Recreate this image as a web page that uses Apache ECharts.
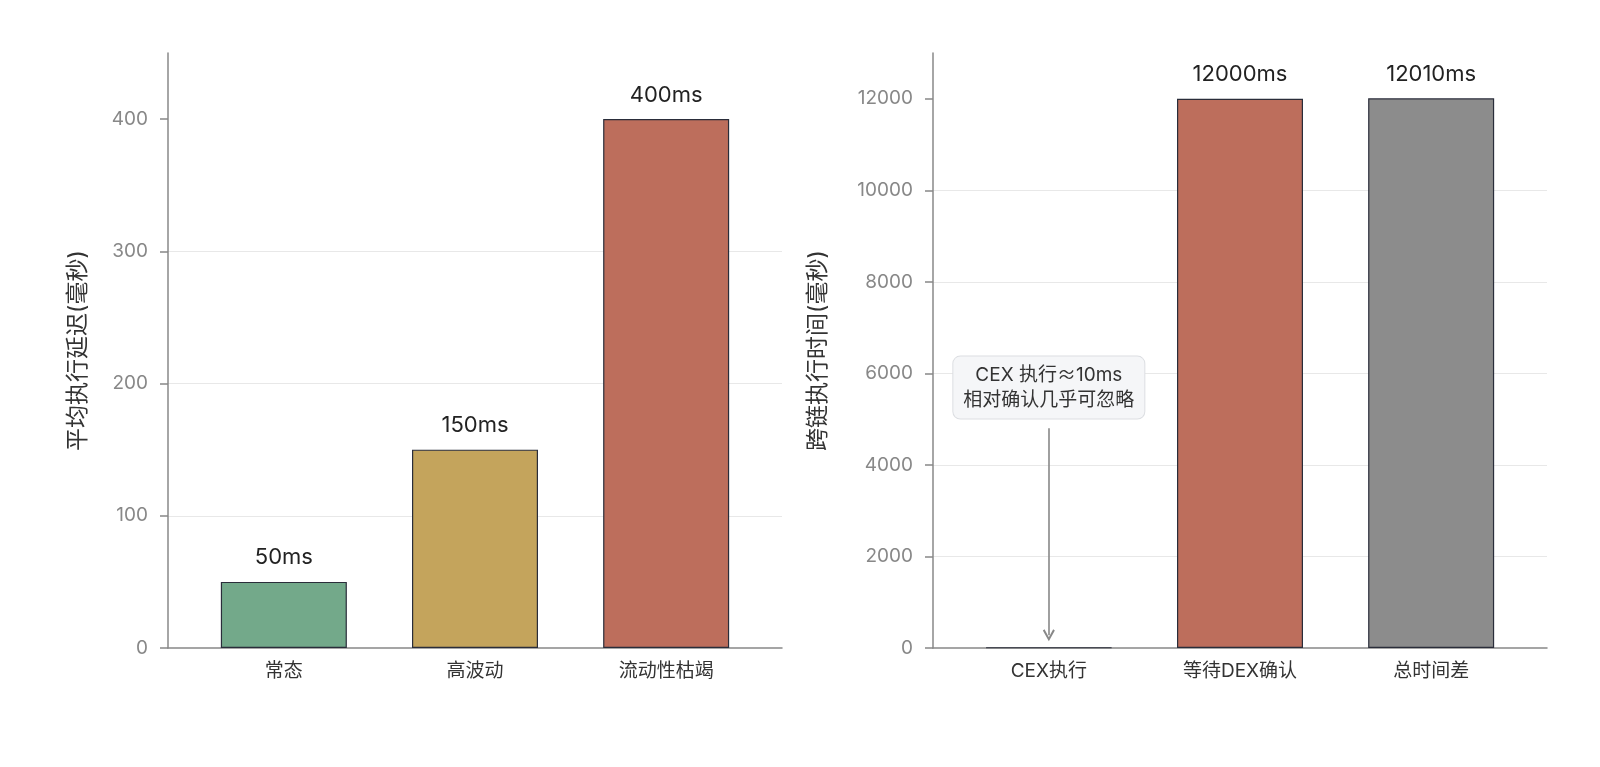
<!DOCTYPE html>
<html>
<head>
<meta charset="utf-8">
<script src="https://cdn.jsdelivr.net/npm/echarts@6/dist/echarts.min.js"></script>
<style>
html, body { margin: 0; padding: 0; background: #fff; }
#main { width: 1600px; height: 767px; }
</style>
</head>
<body>
<div id="main"></div>
<script>
// 左图：不同市场状态下的平均执行延迟
var stateNames = ['常态', '高波动', '流动性枯竭'];
var stateDelay = [50, 150, 400];
var leftTicks = [0, 100, 200, 300, 400];

// 右图：跨链执行时间
var stepNames = ['CEX执行', '等待DEX确认', '总时间差'];
var stepTime = [10, 12000, 12010];
var rightTicks = [0, 2000, 4000, 6000, 8000, 10000, 12000];

// 注释
var noteText = 'CEX 执行{eq|≈}10ms\n相对确认几乎可忽略';
var notePos = [0, 5690];
var arrowFrom = [0, 4800];
var arrowTo = [0, 280];

var leftColors = ['#73a98a', '#c4a45c', '#bd6e5c'];
var rightColors = ['#3a3f5a', '#bd6e5c', '#8c8c8c'];

var FONT = 'Inter, "Noto Sans CJK SC", sans-serif';

function barData(vals, colors) {
    var out = [];
    for (var i = 0; i < vals.length; i++) {
        out.push({
            value: [i, vals[i]],
            itemStyle: { color: colors[i] }
        });
    }
    return out;
}

function makeX(gridIndex, names) {
    return {
        type: 'value',
        gridIndex: gridIndex,
        min: -0.606,
        max: 2.606,
        splitLine: { show: false },
        axisLine: { show: true, onZero: false, lineStyle: { color: '#888', width: 1.5 } },
        axisTick: { show: false, customValues: [0, 1, 2] },
        axisLabel: {
            customValues: [0, 1, 2],
            color: '#333',
            fontSize: 19,
            fontFamily: FONT,
            margin: 14,
            formatter: function (v) { return names[Math.round(v)]; }
        }
    };
}

function makeY(gridIndex, max, ticks, name, gap) {
    return {
        type: 'value',
        gridIndex: gridIndex,
        min: 0,
        max: max,
        name: name,
        nameLocation: 'middle',
        nameGap: gap,
        nameTextStyle: { color: '#333', fontSize: 23, fontFamily: FONT },
        axisLine: { show: true, onZero: false, lineStyle: { color: '#888', width: 1.5 } },
        axisTick: { show: true, length: 8, customValues: ticks, lineStyle: { color: '#888', width: 1.5 } },
        axisLabel: {
            customValues: ticks,
            color: '#888',
            fontSize: 19,
            fontFamily: FONT,
            margin: 20,
            formatter: function (v) { return String(v); }
        },
        splitLine: { show: true, showMinLine: false, showMaxLine: false, lineStyle: { color: '#e8e8e8', width: 1 } }
    };
}

var dom = document.getElementById('main');
var myChart = echarts.init(dom);

var option = {
    backgroundColor: '#fff',
    animation: false,
    grid: [
        { left: 168, right: 818, top: 53, bottom: 119 },
        { left: 933, right: 53, top: 53, bottom: 119 }
    ],
    xAxis: [makeX(0, stateNames), makeX(1, stepNames)],
    yAxis: [
        makeY(0, 450, leftTicks, '平均执行延迟(毫秒)', 78),
        makeY(1, 13000, rightTicks, '跨链执行时间(毫秒)', 103)
    ],
    series: [
        {
            type: 'bar',
            xAxisIndex: 0,
            yAxisIndex: 0,
            barWidth: 126,
            data: barData(stateDelay, leftColors),
            itemStyle: { borderColor: '#2a2d3a', borderWidth: 1.2 },
            label: {
                show: true,
                position: 'top',
                distance: 13,
                color: '#222',
                fontSize: 22,
                fontFamily: FONT,
                formatter: function (p) { return p.value[1] + 'ms'; }
            }
        },
        {
            type: 'bar',
            xAxisIndex: 1,
            yAxisIndex: 1,
            barWidth: 126,
            data: barData(stepTime, rightColors),
            itemStyle: { borderColor: '#2a2d3a', borderWidth: 1.2 },
            label: {
                show: true,
                position: 'top',
                distance: 13,
                color: '#222',
                fontSize: 22,
                fontFamily: FONT,
                formatter: function (p) {
                    // CEX 那根太矮，不标数值
                    return p.dataIndex === 0 ? '' : p.value[1] + 'ms';
                }
            },
            markLine: {
                silent: true,
                symbol: ['none', 'path://M5,0 L10,9 L8.6,10 L5,3.2 L1.4,10 L0,9 Z'],
                symbolSize: [12, 12],
                label: { show: false },
                lineStyle: { color: '#888', width: 1.6, type: 'solid' },
                itemStyle: { color: '#888' },
                data: [[{ coord: arrowFrom }, { coord: arrowTo }]]
            },
            markPoint: {
                silent: true,
                symbol: 'rect',
                symbolSize: 0,
                label: {
                    show: true,
                    position: 'inside',
                    formatter: noteText,
                    color: '#333',
                    fontSize: 19,
                    fontFamily: FONT,
                    lineHeight: 25,
                    align: 'center',
                    backgroundColor: '#f5f6f8',
                    borderColor: '#dcdee2',
                    borderWidth: 1,
                    borderRadius: 7,
                    padding: [6, 10],
                    rich: {
                        eq: { fontFamily: '"Noto Sans CJK SC"', fontSize: 19, color: '#333', lineHeight: 25 }
                    }
                },
                data: [{ coord: notePos }]
            }
        }
    ]
};

if (option && typeof option === "object") {
    myChart.setOption(option, true);
}
</script>
</body>
</html>
